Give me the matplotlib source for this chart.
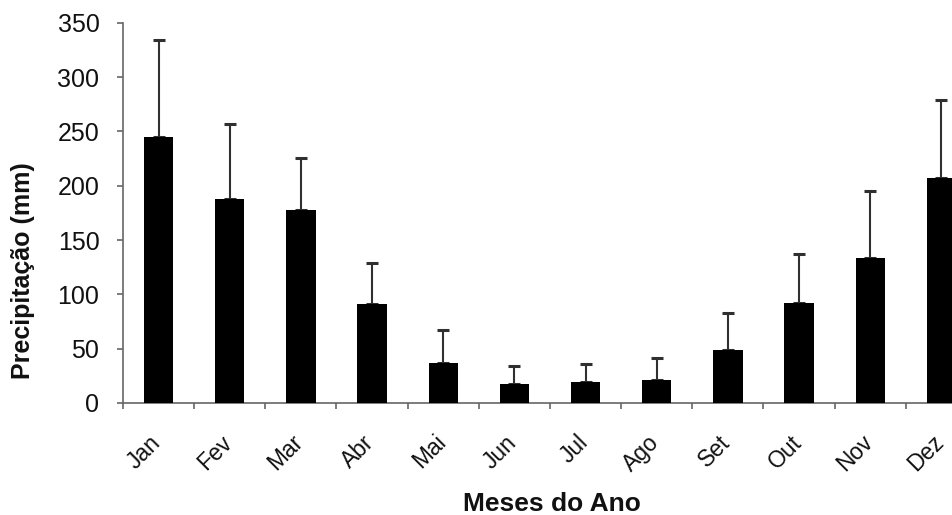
import matplotlib
matplotlib.use("Agg")
import matplotlib.pyplot as plt
import numpy as np

months = ["Jan", "Fev", "Mar", "Abr", "Mai", "Jun", "Jul", "Ago", "Set", "Out", "Nov", "Dez"]
precip = [244.5, 187.4, 177.6, 91.1, 36.5, 17.2, 19.6, 21.2, 48.8, 92.3, 133.7, 206.8]
precip_sd = [89.5, 69.4, 47.6, 38.0, 30.7, 17.1, 16.3, 20.5, 34.3, 44.5, 61.4, 72.1]
yticks = [0, 50, 100, 150, 200, 250, 300, 350]

plt.rcParams['font.family'] = ['Liberation Sans', 'DejaVu Sans']

fig = plt.figure(figsize=(9.53, 5.15), dpi=100)
ax = fig.add_axes([123/953, 1-403/515, (977-123)/953, (403-22.7)/515])

x = np.arange(len(months))
ax.bar(x, precip, width=0.41, color='black', zorder=3)
ax.errorbar(x, precip, yerr=[np.zeros(len(precip)), precip_sd], fmt='none',
            ecolor='#303030', elinewidth=1.5, capsize=4, capthick=2.2, zorder=2)

ax.set_xlim(-0.5, len(months) - 0.5)
ax.set_ylim(0, 350)
ax.set_yticks(yticks)
ax.set_yticklabels([str(v) for v in yticks], fontsize=18, color='#111111')
# label anchors slightly left of the category centres (invisible major ticks)
ax.set_xticks(x - 0.13)
ax.set_xticklabels(months, fontsize=16.5, rotation=45, ha='right', rotation_mode='anchor', color='#111111')
ax.set_xticks(np.arange(-0.5, len(months), 1), minor=True)
ax.tick_params(axis='x', which='major', length=0, pad=20)
ax.tick_params(axis='x', which='minor', length=4, color='#666666', width=1.2, direction='out')
ax.tick_params(axis='y', length=4, color='#666666', width=1.2, direction='out', pad=13)

for s in ['top', 'right']:
    ax.spines[s].set_visible(False)
for s in ['left', 'bottom']:
    ax.spines[s].set_color('#666666')
    ax.spines[s].set_linewidth(1.2)

fig.text(23/953, 1-271/515, "Precipitação (mm)", fontsize=18, fontweight='bold',
         rotation=90, ha='center', va='center', color='#111111')
fig.text(552/953, 4/515, "Meses do Ano", fontsize=19, fontweight='bold',
         ha='center', va='baseline', color='#111111')

fig.savefig("out.png", dpi=100)
